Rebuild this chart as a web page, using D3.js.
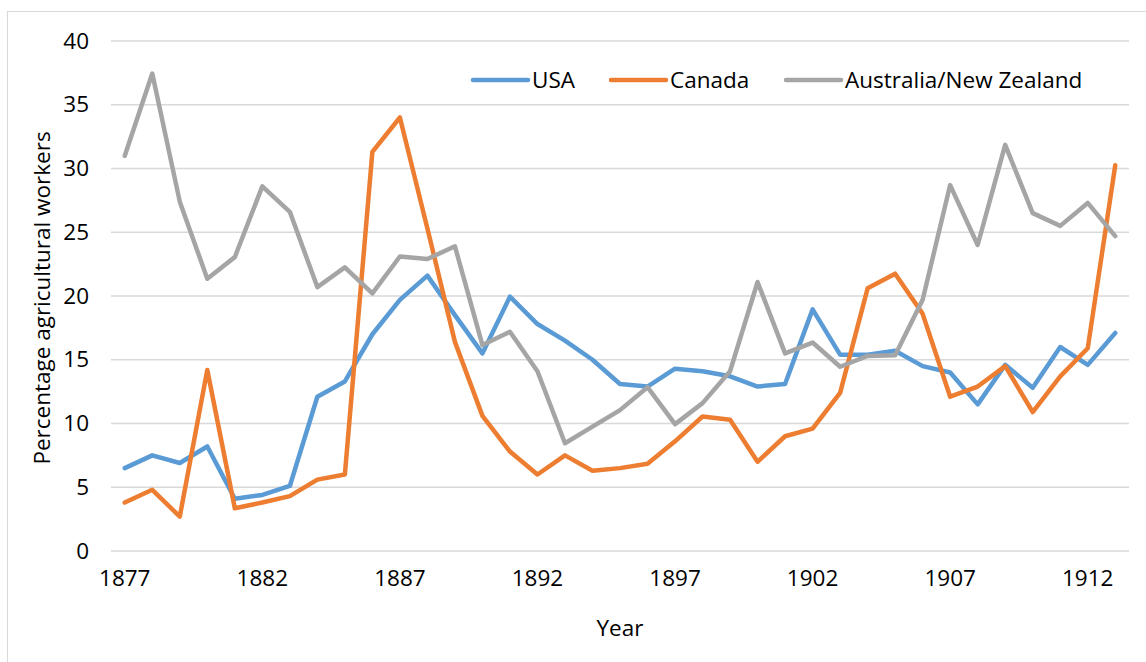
<!DOCTYPE html>
<html>
<head>
<meta charset="utf-8">
<script src="https://cdn.jsdelivr.net/npm/d3@7"></script>
<style>
  html, body { margin: 0; padding: 0; background: #fff; }
  svg { display: block; }
  text { font-family: "Open Sans", "Noto Sans", sans-serif; fill: #000; }
</style>
</head>
<body>
<svg id="chart" width="1146" height="662"></svg>
<script>
const years = d3.range(1877, 1914);
const tickYears = [1877, 1882, 1887, 1892, 1897, 1902, 1907, 1912];
const yTicks = [0, 5, 10, 15, 20, 25, 30, 35, 40];
const seriesNames = ["USA", "Canada", "Australia/New Zealand"];
const seriesColors = ["#5B9BD5", "#ED7D31", "#A5A5A5"];

const usa = [6.5, 7.5, 6.9, 8.2, 4.1, 4.4, 5.1, 12.1, 13.3, 17.0, 19.7, 21.6, 18.5, 15.5, 19.95, 17.8,
  16.5, 15.0, 13.1, 12.9, 14.3, 14.1, 13.7, 12.9, 13.1, 18.95, 15.4, 15.4, 15.7, 14.5, 14.0, 11.5,
  14.6, 12.8, 16.0, 14.6, 17.1];
const canada = [3.8, 4.8, 2.7, 14.2, 3.35, 3.8, 4.3, 5.6, 6.0, 31.3, 34.0, 25.3, 16.4, 10.6, 7.8, 6.0,
  7.5, 6.3, 6.5, 6.85, 8.6, 10.55, 10.3, 7.0, 9.0, 9.6, 12.4, 20.6, 21.75, 18.6, 12.1, 12.9,
  14.5, 10.9, 13.7, 15.9, 30.25];
const ausnz = [31.0, 37.45, 27.4, 21.35, 23.05, 28.6, 26.6, 20.7, 22.25, 20.2, 23.1, 22.9, 23.9, 16.15, 17.2, 14.1,
  8.45, 9.75, 11.05, 12.85, 9.95, 11.6, 14.1, 21.1, 15.5, 16.35, 14.45, 15.3, 15.35, 19.7, 28.7, 24.0,
  31.85, 26.5, 25.5, 27.3, 24.7];
const seriesValues = [usa, canada, ausnz];

const FS = 22.5;
const svg = d3.select("#chart");

// outer chart border
svg.append("rect")
  .attr("x", 7.5).attr("y", 11.5)
  .attr("width", 1160).attr("height", 700)
  .attr("fill", "none").attr("stroke", "#D9D9D9").attr("stroke-width", 1);

const plotLeft = 111, plotRight = 1129, plotTop = 41, plotBottom = 551;

const x = d3.scaleBand().domain(years).range([plotLeft, plotRight]).padding(0);
const cx = d => x(d) + x.bandwidth() / 2;
const y = d3.scaleLinear().domain([0, 40]).range([plotBottom, plotTop]);

// gridlines
svg.append("g")
  .selectAll("line")
  .data(yTicks)
  .join("line")
  .attr("x1", plotLeft).attr("x2", plotRight)
  .attr("y1", d => y(d)).attr("y2", d => y(d))
  .attr("stroke", "#D9D9D9").attr("stroke-width", 1.5);

// y axis labels
const yAxis = d3.axisLeft(y).tickValues(yTicks).tickSize(0).tickPadding(0);
const yg = svg.append("g").attr("transform", `translate(${89},0)`).call(yAxis);
yg.select(".domain").remove();
yg.selectAll("text")
  .attr("font-size", FS)
  .attr("font-family", "'Open Sans', sans-serif")
  .attr("fill", "#000");

// x axis labels
const xAxis = d3.axisBottom(x).tickValues(tickYears).tickSize(0).tickPadding(0);
const xg = svg.append("g").attr("transform", `translate(0,${570})`).call(xAxis);
xg.select(".domain").remove();
xg.selectAll("text")
  .attr("font-size", FS)
  .attr("font-family", "'Open Sans', sans-serif")
  .attr("fill", "#000");

// lines
const line = d3.line().x((d, i) => cx(years[i])).y(d => y(d));
seriesValues.forEach((vals, i) => {
  svg.append("path")
    .datum(vals)
    .attr("d", line)
    .attr("fill", "none")
    .attr("stroke", seriesColors[i])
    .attr("stroke-width", 4.5)
    .attr("stroke-linejoin", "round")
    .attr("stroke-linecap", "round");
});

// axis titles
svg.append("text")
  .attr("x", 620).attr("y", 636)
  .attr("text-anchor", "middle")
  .attr("font-size", FS)
  .text("Year");

svg.append("text")
  .attr("transform", `translate(50,${298}) rotate(-90)`)
  .attr("text-anchor", "middle")
  .attr("font-size", FS)
  .text("Percentage agricultural workers");

// legend
const legendX = [473, 611, 786];
const lg = svg.append("g");
seriesNames.forEach((name, i) => {
  const g = lg.append("g").attr("transform", `translate(${legendX[i]},80)`);
  g.append("line")
    .attr("x1", 0).attr("x2", 55).attr("y1", 0).attr("y2", 0)
    .attr("stroke", seriesColors[i]).attr("stroke-width", 4.5)
    .attr("stroke-linecap", "round");
  g.append("text")
    .attr("x", 59).attr("y", 0).attr("dy", "0.35em")
    .attr("font-size", FS)
    .text(name);
});
</script>
</body>
</html>
